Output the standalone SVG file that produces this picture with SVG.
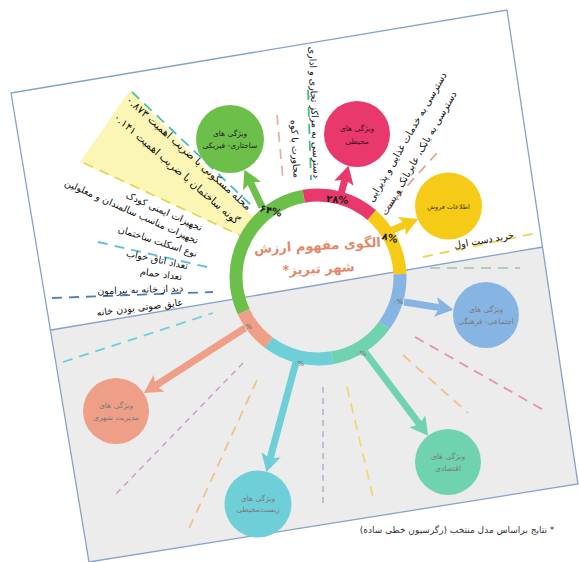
<svg xmlns="http://www.w3.org/2000/svg" width="579" height="562" viewBox="0 0 579 562">
<defs>
<style>
.fa{font-family:"DejaVu Sans",sans-serif;fill:#111}
.rc{direction:rtl;text-anchor:middle}
.re{text-anchor:end}
.lst{font-size:9.5px}
.big{font-size:10.5px}
.mid{font-size:9.8px}
.lbl{font-size:7.5px;fill:#222}
.lo{fill:#7a7a7a}
.pct{font-family:"DejaVu Sans",sans-serif;text-anchor:middle;font-weight:bold;font-size:10px;fill:#222}
.z{font-family:"DejaVu Sans",sans-serif;text-anchor:middle;font-size:7px;fill:#666}
.seg{fill:none;stroke-width:13}
.shaft{fill:none;stroke-width:7}
.d{fill:none;stroke-width:1.8;stroke-dasharray:10 7}
.dt{fill:none;stroke-width:1.4;stroke-dasharray:6 5}
.frame{fill:none;stroke:#86a3c6;stroke-width:1.3}
.ttl{font-size:13px;font-weight:bold;fill:#e3896b}
</style>
<marker id="mg" viewBox="0 0 18 20" refX="4" refY="10" markerWidth="18" markerHeight="20" markerUnits="userSpaceOnUse" orient="auto"><path d="M0,0 L18,10 L0,20 L4,10 Z" fill="#6cc04a"/></marker>
<marker id="mr" viewBox="0 0 18 20" refX="4" refY="10" markerWidth="18" markerHeight="20" markerUnits="userSpaceOnUse" orient="auto"><path d="M0,0 L18,10 L0,20 L4,10 Z" fill="#e8386c"/></marker>
<marker id="my" viewBox="0 0 18 20" refX="4" refY="10" markerWidth="18" markerHeight="20" markerUnits="userSpaceOnUse" orient="auto"><path d="M0,0 L18,10 L0,20 L4,10 Z" fill="#f6cb17"/></marker>
<marker id="mb" viewBox="0 0 18 20" refX="4" refY="10" markerWidth="18" markerHeight="20" markerUnits="userSpaceOnUse" orient="auto"><path d="M0,0 L18,10 L0,20 L4,10 Z" fill="#86b5e3"/></marker>
<marker id="mt" viewBox="0 0 18 20" refX="4" refY="10" markerWidth="18" markerHeight="20" markerUnits="userSpaceOnUse" orient="auto"><path d="M0,0 L18,10 L0,20 L4,10 Z" fill="#70d3b0"/></marker>
<marker id="mc" viewBox="0 0 18 20" refX="4" refY="10" markerWidth="18" markerHeight="20" markerUnits="userSpaceOnUse" orient="auto"><path d="M0,0 L18,10 L0,20 L4,10 Z" fill="#6fcfd8"/></marker>
<marker id="ms" viewBox="0 0 18 20" refX="4" refY="10" markerWidth="18" markerHeight="20" markerUnits="userSpaceOnUse" orient="auto"><path d="M0,0 L18,10 L0,20 L4,10 Z" fill="#ef9f88"/></marker>
</defs>
<rect width="579" height="562" fill="#fff"/>

<g id="frame">
<polygon points="11,93 507,10 543,247 51,330" fill="#fff"/>
<polygon points="51,330 543,247 578,484 89,562" fill="#ececec"/>
<polygon class="frame" points="11,93 507,10 578,484 89,562"/>
<line class="frame" x1="51" y1="330" x2="543" y2="247"/>
<polygon points="80,162 130,90 258,222 250,240" fill="#fbf6b6"/>
</g>

<g id="guides">
<line class="d" x1="132" y1="92" x2="252" y2="206" stroke="#48c3ae"/>
<line class="d" x1="84" y1="163" x2="246" y2="238" stroke="#e6d35a"/>
<line class="d" x1="98" y1="242" x2="207" y2="267" stroke="#5bbfd6"/>
<line class="d" x1="52" y1="298" x2="213" y2="292" stroke="#4d7fc0"/>
<line class="d" x1="277" y1="115" x2="283" y2="180" stroke="#e4b1a6"/>
<line class="d" x1="308" y1="90" x2="311" y2="180" stroke="#3dbf9c"/>
<line class="d" x1="437" y1="153" x2="388" y2="207" stroke="#e8a58f"/>
<line class="d" x1="423" y1="257" x2="537" y2="233" stroke="#ead650"/>
<line class="d" x1="430" y1="268" x2="520" y2="268" stroke="#b5cdb8"/>
<line class="d" x1="63" y1="362" x2="213" y2="313" stroke="#6ccfd9"/>
<line class="dt" x1="243" y1="363" x2="115" y2="495" stroke="#c99ac6"/>
<line class="d" x1="257" y1="380" x2="187" y2="533" stroke="#f0c288"/>
<line class="dt" x1="323" y1="387" x2="323" y2="507" stroke="#a3b2c8"/>
<line class="d" x1="347" y1="387" x2="373" y2="497" stroke="#f0d870"/>
<line class="d" x1="403" y1="355" x2="468" y2="413" stroke="#f2c08a"/>
<line class="d" x1="415" y1="337" x2="547" y2="412" stroke="#e893a3"/>
</g>

<g id="connectors">
<line class="shaft" x1="262" y1="207" x2="250.4" y2="182.4" stroke="#6cc04a" marker-end="url(#mg)"/>
<line class="shaft" x1="340" y1="198" x2="344.9" y2="179.4" stroke="#e8386c" marker-end="url(#mr)"/>
<line class="shaft" x1="388" y1="232" x2="405.3" y2="224.5" stroke="#f6cb17" marker-end="url(#my)"/>
<line class="shaft" x1="404" y1="302" x2="439.6" y2="307.6" stroke="#86b5e3" marker-end="url(#mb)"/>
<line class="shaft" x1="365" y1="352" x2="419.7" y2="424.5" stroke="#70d3b0" marker-end="url(#mt)"/>
<line class="shaft" x1="296" y1="362" x2="270.1" y2="458.6" stroke="#6fcfd8" marker-end="url(#mc)"/>
<line class="shaft" x1="245" y1="328" x2="155.6" y2="385.5" stroke="#ef9f88" marker-end="url(#ms)"/>
</g>

<g id="ring">
<path class="seg" stroke="#6cc04a" d="M243.68,311.65 A82,82 0 0 1 303.76,196.25"/>
<path class="seg" stroke="#e8386c" d="M303.76,196.25 A82,82 0 0 1 371.80,215.12"/>
<path class="seg" stroke="#f6cb17" d="M371.80,215.12 A82,82 0 0 1 399.95,274.14"/>
<path class="seg" stroke="#86b5e3" d="M399.95,274.14 A82,82 0 0 1 384.34,325.20"/>
<path class="seg" stroke="#70d3b0" d="M384.34,325.20 A82,82 0 0 1 332.24,357.75"/>
<path class="seg" stroke="#6fcfd8" d="M332.24,357.75 A82,82 0 0 1 268.65,342.49"/>
<path class="seg" stroke="#ef9f88" d="M268.65,342.49 A82,82 0 0 1 243.68,311.65"/>
<text class="pct" transform="translate(270,214) rotate(15)">۶۴%</text>
<text class="pct" transform="translate(337,203) rotate(5)">۲۸%</text>
<text class="pct" transform="translate(389,241) rotate(15)">۸%</text>
<text class="z" x="398" y="304">۰%</text>
<text class="z" x="361" y="356">۰%</text>
<text class="z" x="299" y="366">۰%</text>
<text class="z" x="247" y="329">۰%</text>
<g transform="rotate(-3 318 258)">
<text class="fa rc ttl" x="318" y="250">الگوی مفهوم ارزش</text>
<text class="fa rc ttl" x="318" y="273">شهر تبریز*</text>
</g>
</g>

<g id="node-physical">
<circle cx="230" cy="139" r="34" fill="#6cc04a"/>
<text class="fa rc lbl" x="230" y="136">ویژگی های</text>
<text class="fa rc lbl" x="230" y="148">ساختاری- فیزیکی</text>
</g>
<g id="node-environment">
<circle cx="357" cy="134" r="33" fill="#e8386c"/>
<text class="fa rc lbl" x="357" y="131" style="fill:#3a1020">ویژگی های</text>
<text class="fa rc lbl" x="357" y="144" style="fill:#3a1020">محیطی</text>
</g>
<g id="node-sales">
<circle cx="448.5" cy="206" r="33.5" fill="#f6cb17"/>
<text class="fa rc" x="448.5" y="209" style="font-size:6.5px;fill:#4a3a00">اطلاعات فروش</text>
</g>
<g id="node-social">
<circle cx="486" cy="315" r="33" fill="#86b5e3"/>
<text class="fa rc lbl lo" x="486" y="312">ویژگی های</text>
<text class="fa rc lbl lo" x="486" y="324">اجتماعی- فرهنگی</text>
</g>
<g id="node-economic">
<circle cx="448" cy="462" r="33" fill="#70d3b0"/>
<text class="fa rc lbl lo" x="448" y="459">ویژگی های</text>
<text class="fa rc lbl lo" x="448" y="471">اقتصادی</text>
</g>
<g id="node-ecological">
<circle cx="258" cy="504" r="33.5" fill="#6fcfd8"/>
<text class="fa rc lbl lo" x="258" y="501">ویژگی های</text>
<text class="fa rc lbl lo" x="258" y="512">زیست‌محیطی</text>
</g>
<g id="node-management">
<circle cx="116" cy="411" r="33" fill="#ef9f88"/>
<text class="fa rc lbl lo" x="116" y="408">ویژگی های</text>
<text class="fa rc lbl lo" x="116" y="420">مدیریت شهری</text>
</g>

<g id="labels">
<text class="fa re big" dy=".35em" transform="translate(250,208) rotate(42)">محله مسکونی با ضریب اهمیت ۰.۸۷۳</text>
<text class="fa re big" dy=".35em" transform="translate(238,222) rotate(41)">گونه ساختمان با ضریب اهمیت ۰.۱۴۱</text>
<text class="fa re lst" dy=".35em" transform="translate(202,228) rotate(24)">تجهیزات ایمنی کودک</text>
<text class="fa re lst" dy=".35em" transform="translate(198,241) rotate(24)">تجهیزات مناسب سالمندان و معلولین</text>
<text class="fa re lst" dy=".35em" transform="translate(197,254) rotate(18)">نوع اسکلت ساختمان</text>
<text class="fa re lst" dy=".35em" transform="translate(188,266) rotate(12)">تعداد اتاق خواب</text>
<text class="fa re lst" dy=".35em" transform="translate(182,277) rotate(8)">تعداد حمام</text>
<text class="fa re lst" dy=".35em" transform="translate(183,288) rotate(-2)">دید از خانه به پیرامون</text>
<text class="fa re lst" dy=".35em" transform="translate(183,302) rotate(-7)">عایق صوتی بودن خانه</text>
<text class="fa re lst" dy=".35em" transform="translate(297,178) rotate(87)">مجاورت با کوه</text>
<text class="fa re lst" dy=".35em" transform="translate(317,178) rotate(88)">دسترسی به مراکز تجاری و اداری</text>
<text class="fa re mid" dy=".35em" transform="translate(444,73) rotate(-60)">دسترسی به خدمات غذایی و پذیرایی</text>
<text class="fa re mid" dy=".35em" transform="translate(454,92) rotate(-60)">دسترسی به بانک، عابربانک و پست</text>
<text class="fa rc lst" dy=".35em" transform="translate(484,240) rotate(-10)">خرید دست اول</text>
<text class="fa rc" x="457" y="533" style="font-size:9px;fill:#333">* نتایج براساس مدل منتخب (رگرسیون خطی ساده)</text>
</g>
</svg>
